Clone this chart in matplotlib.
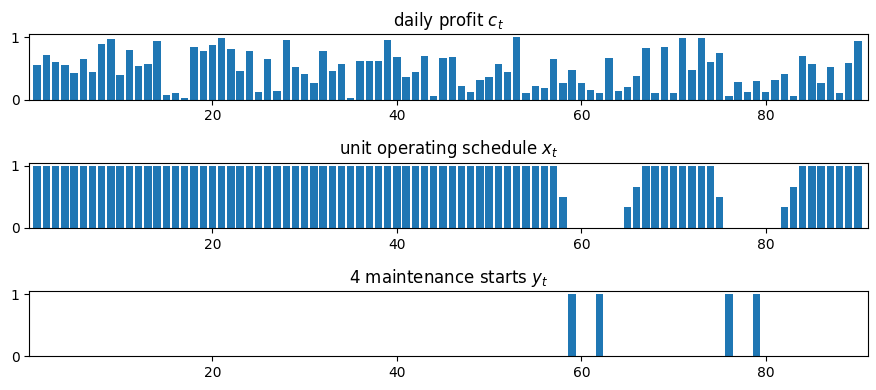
import matplotlib
matplotlib.use("Agg")
import matplotlib.pyplot as plt
import numpy as np

t = np.arange(1, 91)

profit = [0.56, 0.72, 0.61, 0.56, 0.43, 0.65, 0.45, 0.89, 0.97, 0.40,
          0.80, 0.54, 0.57, 0.94, 0.08, 0.10, 0.03, 0.85, 0.78, 0.88,
          0.99, 0.81, 0.46, 0.78, 0.13, 0.65, 0.14, 0.96, 0.53, 0.41,
          0.27, 0.78, 0.46, 0.57, 0.03, 0.62, 0.62, 0.62, 0.96, 0.69,
          0.37, 0.45, 0.70, 0.06, 0.67, 0.69, 0.22, 0.13, 0.32, 0.37,
          0.57, 0.45, 1.00, 0.11, 0.22, 0.18, 0.65, 0.26, 0.48, 0.26,
          0.16, 0.11, 0.67, 0.14, 0.21, 0.38, 0.83, 0.10, 0.85, 0.10,
          0.99, 0.48, 0.99, 0.61, 0.75, 0.05, 0.29, 0.13, 0.30, 0.13,
          0.32, 0.41, 0.06, 0.70, 0.57, 0.27, 0.53, 0.10, 0.59, 0.94]

schedule = ([1.0] * 57 + [0.5] + [0.0] * 6 + [1/3, 2/3] + [1.0] * 8 + [0.5]
            + [0.0] * 6 + [1/3, 2/3] + [1.0] * 7)

starts_at = [59, 62, 76, 79]
starts = [1.0 if k in starts_at else 0.0 for k in t]

titles = ["daily profit $c_t$", "unit operating schedule $x_t$",
          f"{len(starts_at)} maintenance starts $y_t$"]

fig, axes = plt.subplots(3, 1, figsize=(8.76, 3.9), dpi=100)
for ax, vals, title in zip(axes, [profit, schedule, starts], titles):
    ax.bar(t, vals, color="#1f77b4", width=0.8)
    ax.set_title(title)
    ax.set_xlim(0.15, 91.05)
    ax.set_ylim(0, 1.05)
    ax.set_yticks([0, 1])
    ax.set_xticks([20, 40, 60, 80])

fig.subplots_adjust(left=0.0335, right=0.9905, top=0.912, bottom=0.0864,
                    hspace=0.966)
fig.savefig("out.png", dpi=100)
